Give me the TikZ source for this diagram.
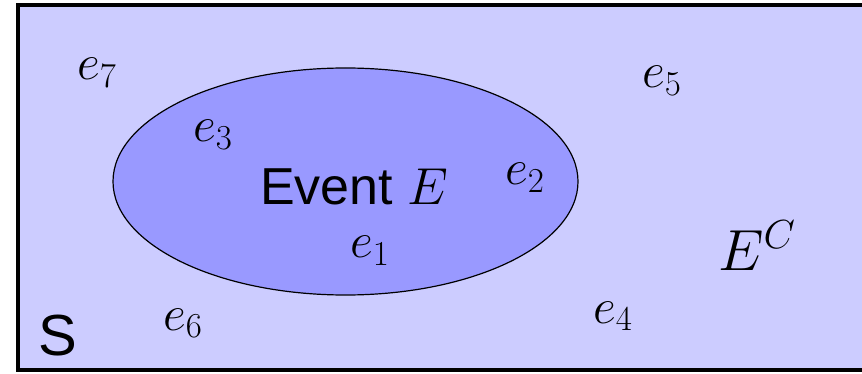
\documentclass[tikz,border=0pt]{standalone}
\usepackage{fix-cm}
\usepackage{fontspec}
\setsansfont{Liberation Sans}
\usetikzlibrary{positioning}
\definecolor{samplefill}{RGB}{204,204,255}
\definecolor{eventfill}{RGB}{153,153,255}
\begin{document}
\begin{tikzpicture}[x=1pt,y=-1pt,
  outcome/.style={anchor=base west,inner sep=0pt,font=\fontsize{50}{60}\selectfont},
  biglabel/.style={anchor=base west,inner sep=0pt,font=\fontsize{58}{70}\selectfont}]
 \useasboundingbox (0,0) rectangle (862,374);
 \clip (0,0) rectangle (862,374);
 % sample space
 \draw[line width=4pt,fill=samplefill] (18,5) rectangle (900,370);
 % event ellipse
 \draw[line width=1.2pt,fill=eventfill] (345.5,181.5) ellipse [x radius=232.5,y radius=113.5];
 \node[biglabel,font=\sffamily\fontsize{52}{62}\selectfont] (ev) at (260,205) {Event $E$};
 \node[biglabel,font=\sffamily\fontsize{58}{70}\selectfont] (s) at (38,355) {S};
 \node[biglabel] (ec) at (718,270) {$E^C$};
 % outcomes
 \node[outcome] (e1) at (350,258) {$e_1$};
 \node[outcome] (e2) at (505,185) {$e_2$};
 \node[outcome] (e3) at (193,142) {$e_3$};
 \node[outcome] (e4) at (593,323) {$e_4$};
 \node[outcome] (e5) at (642,88) {$e_5$};
 \node[outcome] (e6) at (163,330) {$e_6$};
 \node[outcome] (e7) at (77,80) {$e_7$};
\end{tikzpicture}
\end{document}
